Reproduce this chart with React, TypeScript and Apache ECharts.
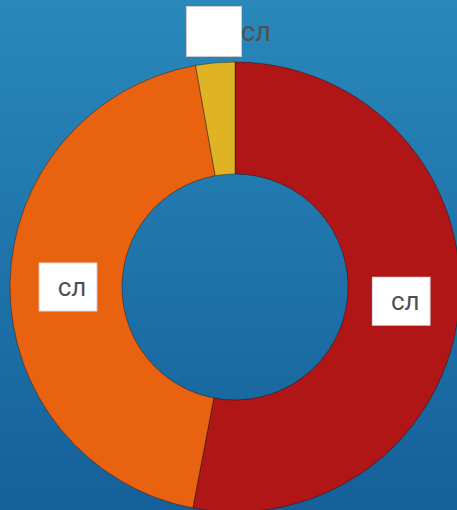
import React, { useEffect, useRef } from "react";
import * as echarts from "echarts";

const categories = ["A", "B", "C"];
const values = [53.0, 44.2, 2.8];
const colors = ["#b01616", "#e8620f", "#e0b325"];
const labelText = "сл";

export default function App() {
  const ref = useRef<HTMLDivElement>(null);
  useEffect(() => {
    document.body.style.margin = "0";
    const chart = echarts.init(ref.current!, null, { renderer: "svg" });
    const insideLabel = {
      show: true,
      position: "inside",
      formatter: labelText,
      backgroundColor: "#ffffff",
      borderColor: "#dddddd",
      borderWidth: 1,
      padding: [12, 10, 11, 18],
      color: "#505050",
      fontSize: 26,
      lineHeight: 24,
      fontFamily: "Roboto, Arial, sans-serif",
    };
    chart.setOption({
      animation: false,
      backgroundColor: new echarts.graphic.LinearGradient(0, 0, 0, 1, [
        { offset: 0, color: "#2a88bb" },
        { offset: 1, color: "#15609a" },
      ]),
      series: [
        {
          type: "pie",
          center: [235, 287],
          radius: [113, 225],
          startAngle: 90,
          clockwise: true,
          avoidLabelOverlap: false,
          labelLine: { show: false },
          itemStyle: { borderColor: "rgba(0,0,0,0.35)", borderWidth: 1 },
          emphasis: { disabled: true },
          labelLayout: (p: any) =>
            p.dataIndex === 2
              ? { x: 187, y: 7, align: "left", verticalAlign: "top" }
              : p.dataIndex === 0
              ? { dx: -5, dy: -2 }
              : { dx: 5, dy: 1 },
          data: categories.map((c, i) => ({
            name: c,
            value: values[i],
            itemStyle: { color: colors[i] },
            label:
              i === 2
                ? {
                    show: true,
                    position: "outside",
                    formatter: "{b|}{t|" + labelText + "}",
                    rich: {
                      b: {
                        backgroundColor: "#ffffff",
                        borderColor: "#cccccc",
                        borderWidth: 1,
                        width: 54,
                        height: 49,
                      },
                      t: {
                        color: "#505050",
                        fontSize: 27,
                        fontFamily: "Roboto, Arial, sans-serif",
                        verticalAlign: "middle",
                      },
                    },
                  }
                : insideLabel,
          })),
        },
      ],
    });
    return () => chart.dispose();
  }, []);
  return <div ref={ref} style={{ width: 457, height: 510 }} />;
}
